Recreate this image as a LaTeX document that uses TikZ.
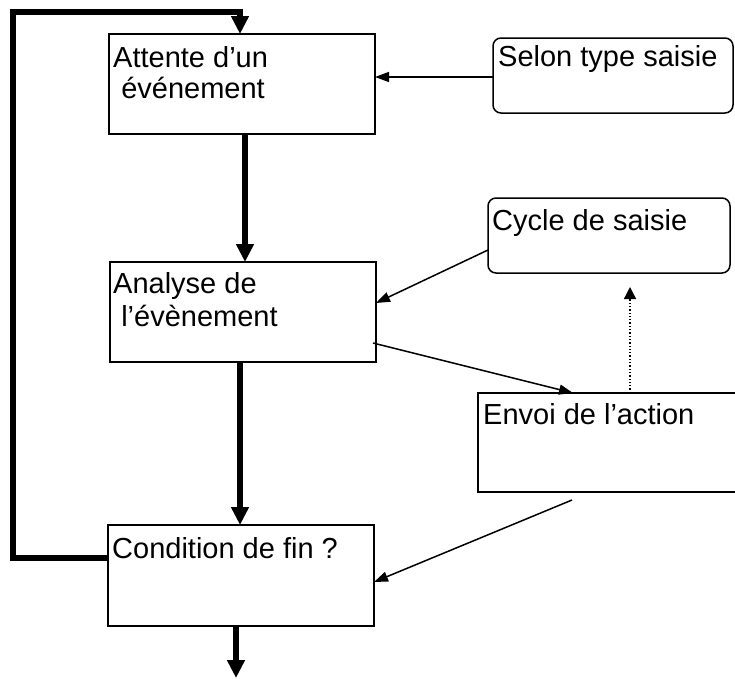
\documentclass[tikz,border=0pt]{standalone}
\usepackage{fontspec}
\setmainfont{Liberation Sans}
\usetikzlibrary{arrows.meta}
\begin{document}
\begin{tikzpicture}[x=1pt,y=-1pt,
  box/.style={draw, line width=1.5pt, inner sep=0pt, outer sep=0pt, anchor=north west},
  rbox/.style={box, rounded corners=8pt},
  txt/.style={inner sep=0pt, anchor=base west, font=\fontsize{29pt}{33pt}\selectfont},
  flow/.style={line width=5.5pt, -{Triangle[length=18pt,width=17pt]}},
  link/.style={line width=1.5pt, -{Triangle[length=14pt,width=10pt]}},
  hint/.style={line width=1.3pt, dotted, -{Triangle[length=12pt,width=12pt]}},
]
\useasboundingbox (0,0) rectangle (735,678);

% main flow boxes
\node[box, minimum width=266pt, minimum height=100pt] (attente) at (109,34) {};
\node[box, minimum width=266pt, minimum height=100pt] (analyse) at (110,262) {};
\node[box, minimum width=266pt, minimum height=101pt] (cond) at (108,525) {};

% side boxes
\node[rbox, minimum width=240pt, minimum height=75pt] (selon) at (493,38) {};
\node[rbox, minimum width=242pt, minimum height=75pt] (cycle) at (488,198) {};
\node[box, minimum width=270pt, minimum height=99pt] (envoi) at (478,393) {};

% texts
\node[txt] (t1a) at (113,67) {Attente d’un};
\node[txt] (t1b) at (113,98) {\ événement};
\node[txt] (t2a) at (113,293) {Analyse de};
\node[txt] (t2b) at (113,326) {\ l’évènement};
\node[txt] (t3) at (112,558) {Condition de fin ?};
\node[txt] (t4) at (498,66) {Selon type saisie};
\node[txt] (t5) at (492,230) {Cycle de saisie};
\node[txt] (t6) at (483,424) {Envoi de l’action};

% loop back to the top
\coordinate (loopx) at (240,0);
\draw[flow] ([yshift=-33pt]cond.north west) -- (13,558) -- (13,12) -- (240,12) -- (loopx |- attente.north);

% main vertical arrows
\draw[flow] ([xshift=3pt]attente.south) -- ([xshift=2pt]analyse.north);
\draw[flow] ([xshift=-3pt]analyse.south) -- ([xshift=-1pt]cond.north);
\coordinate (exit) at (236,678);
\draw[flow] (exit |- cond.south) -- (exit);

% side connectors
\draw[link] ([yshift=-39pt]selon.north west) -- ([yshift=-43pt]attente.north east);
\draw[link] ([yshift=-52pt]cycle.north west) -- ([yshift=-41pt]analyse.north east);
\draw[link] ([xshift=-3pt,yshift=-81pt]analyse.north east) -- ([xshift=95pt]envoi.north west);
\coordinate (up) at (630,287);
\draw[hint] (up |- envoi.north) -- (up);
\coordinate (back) at (572,500);
\draw[link] (back) -- ([yshift=-57pt]cond.north east);
\end{tikzpicture}
\end{document}
